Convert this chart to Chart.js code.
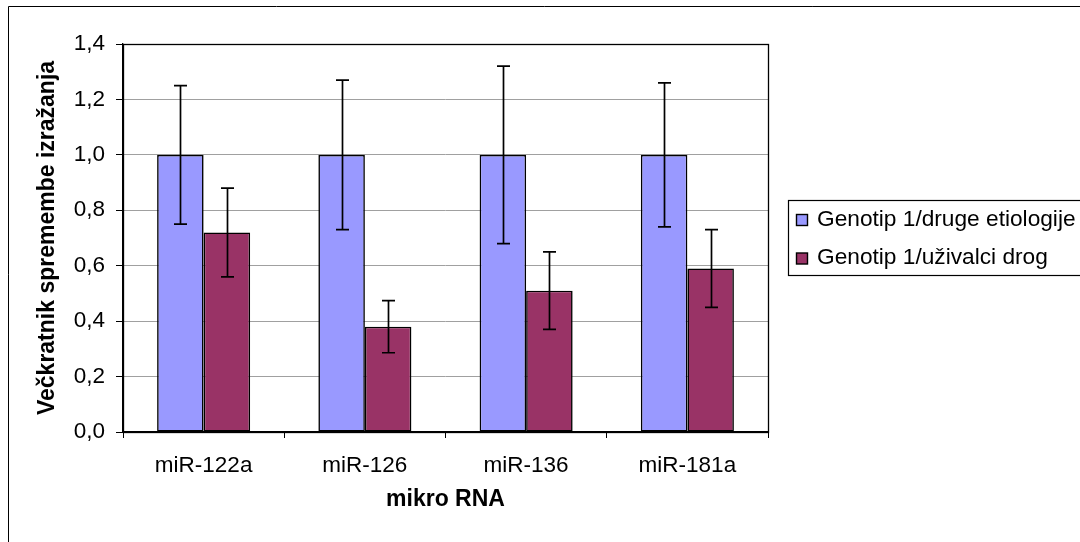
<!DOCTYPE html>
<html>
<head>
<meta charset="utf-8">
<script src="https://cdn.jsdelivr.net/npm/chart.js@4/dist/chart.umd.min.js"></script>
<style>
  html, body { margin: 0; padding: 0; background: #fff; }
  #wrap { width: 1080px; height: 542px; position: relative; }
</style>
</head>
<body>
<div id="wrap"><canvas id="c"></canvas></div>
<script>
// microRNA fold-change by patient group
const categories = ['miR-122a', 'miR-126', 'miR-136', 'miR-181a'];
const seriesNames = ['Genotip 1/druge etiologije', 'Genotip 1/uživalci drog'];
const otherEtiologyValues = [1.0, 1.0, 1.0, 1.0];
const otherEtiologyErrors = [0.25, 0.27, 0.32, 0.26];
const drugUserValues = [0.72, 0.38, 0.51, 0.59];
const drugUserErrors = [0.16, 0.094, 0.14, 0.14];
const yTicks = [0, 0.2, 0.4, 0.6, 0.8, 1.0, 1.2, 1.4];

const FONT = '"Liberation Sans", Arial, sans-serif';
Chart.defaults.font.family = FONT;
Chart.defaults.color = '#000';

const errorsByDataset = [otherEtiologyErrors, drugUserErrors];

const framePlugin = {
  id: 'frame',
  beforeDraw(chart) {
    const ctx = chart.ctx;
    ctx.save();
    ctx.fillStyle = '#fff';
    ctx.fillRect(0, 0, chart.width, chart.height);
    ctx.strokeStyle = '#000';
    ctx.lineWidth = 1;
    ctx.beginPath();
    ctx.moveTo(8.5, chart.height);
    ctx.lineTo(8.5, 6.5);
    ctx.lineTo(chart.width, 6.5);
    ctx.stroke();
    ctx.restore();
  },
  afterDatasetsDraw(chart) {
    const ctx = chart.ctx;
    const y = chart.scales.y;
    ctx.save();
    // error bars
    ctx.strokeStyle = '#000';
    ctx.lineWidth = 1.7;
    chart.data.datasets.forEach((ds, di) => {
      const meta = chart.getDatasetMeta(di);
      const errs = errorsByDataset[di];
      meta.data.forEach((bar, i) => {
        const v = ds.data[i];
        const e = errs[i];
        const x = Math.round(bar.x) + 0.5;
        const yTop = y.getPixelForValue(v + e);
        const yBot = y.getPixelForValue(v - e);
        const cap = 6.5;
        ctx.beginPath();
        ctx.moveTo(x, yTop); ctx.lineTo(x, yBot);
        ctx.moveTo(x - cap, yTop); ctx.lineTo(x + cap, yTop);
        ctx.moveTo(x - cap, yBot); ctx.lineTo(x + cap, yBot);
        ctx.stroke();
      });
    });
    // plot area border
    const a = chart.chartArea;
    ctx.lineWidth = 1.3;
    ctx.strokeRect(Math.round(a.left) + 0.5, Math.round(a.top) + 0.5,
                   Math.round(a.right - a.left), Math.round(a.bottom - a.top));
    ctx.restore();
  },
  afterDraw(chart) {
    // legend box
    const ctx = chart.ctx;
    ctx.save();
    const bx = 788.5, by = 200.5, bw = 300, bh = 75;
    ctx.fillStyle = '#fff';
    ctx.strokeStyle = '#000';
    ctx.lineWidth = 1.2;
    ctx.fillRect(bx, by, bw, bh);
    ctx.strokeRect(bx, by, bw, bh);
    ctx.font = '22.7px ' + FONT;
    ctx.textBaseline = 'middle';
    chart.data.datasets.forEach((ds, i) => {
      const cy = 219.5 + i * 38.5;
      ctx.fillStyle = ds.backgroundColor;
      ctx.fillRect(796.5, cy - 5, 11, 11);
      ctx.lineWidth = 1.4;
      ctx.strokeRect(796.5, cy - 5, 11, 11);
      ctx.fillStyle = '#000';
      ctx.fillText(ds.label, 817, cy);
    });
    ctx.restore();
  }
};

new Chart(document.getElementById('c'), {
  type: 'bar',
  data: {
    labels: categories,
    datasets: [
      {
        label: seriesNames[0],
        data: otherEtiologyValues,
        backgroundColor: '#9999FF',
        borderColor: '#000',
        borderWidth: 1.6,
        borderSkipped: false
      },
      {
        label: seriesNames[1],
        data: drugUserValues,
        backgroundColor: '#993366',
        borderColor: '#000',
        borderWidth: 1.6,
        borderSkipped: false
      }
    ]
  },
  options: {
    responsive: true,
    maintainAspectRatio: false,
    animation: false,
    layout: { padding: { top: 44, right: 312, left: 0, bottom: 0 } },
    datasets: { bar: { categoryPercentage: 0.577, barPercentage: 1.0 } },
    plugins: {
      legend: { display: false },
      tooltip: { enabled: false }
    },
    scales: {
      x: {
        afterFit(scale) { scale.height = 110; },
        grid: {
          offset: true,
          drawOnChartArea: false,
          drawTicks: true,
          tickLength: 6,
          tickColor: '#000',
          color: '#000'
        },
        border: { display: true, color: '#000', width: 1.3 },
        ticks: { font: { size: 22.5 }, padding: 14, color: '#000', maxRotation: 0 },
        title: {
          display: true,
          text: 'mikro RNA',
          font: { size: 23, weight: 'bold' },
          color: '#000',
          padding: { top: 29, bottom: 29 }
        }
      },
      y: {
        min: 0,
        max: 1.4,
        afterFit(scale) { scale.width = 123; },
        afterBuildTicks(scale) { scale.ticks = yTicks.map(v => ({ value: v })); },
        grid: {
          color: '#a0a0a0',
          lineWidth: 1,
          tickColor: '#000',
          tickLength: 7,
          drawTicks: true
        },
        border: { display: true, color: '#000', width: 1.3 },
        ticks: {
          font: { size: 22.5 },
          padding: 11,
          color: '#000',
          callback: v => Number(v).toFixed(1).replace('.', ',')
        },
        title: {
          display: true,
          text: 'Večkratnik spremembe izražanja',
          font: { size: 23, weight: 'bold' },
          color: '#000',
          padding: { top: 34, bottom: 34 }
        }
      }
    }
  },
  plugins: [framePlugin]
});
</script>
</body>
</html>
